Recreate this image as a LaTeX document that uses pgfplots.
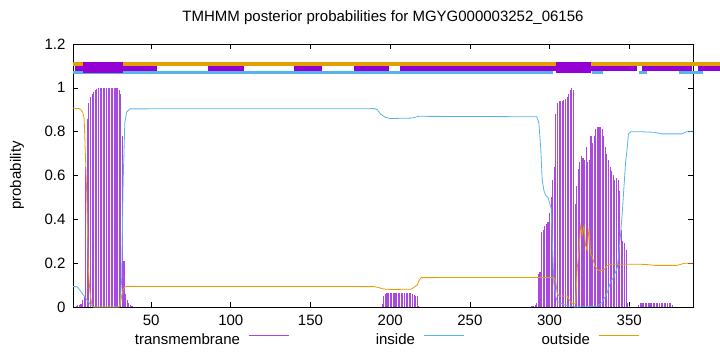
\documentclass[border=0pt]{standalone}
\usepackage{pgfplots}
\pgfplotsset{compat=1.18}
\usepackage{fontspec}
\setmainfont{Liberation Sans}
\definecolor{tmc}{RGB}{148,0,211}
\definecolor{tmbar}{RGB}{172,72,226}
\definecolor{tmleg}{RGB}{165,70,220}
\definecolor{inc}{RGB}{86,180,233}
\definecolor{outc}{RGB}{230,159,0}

\pgfplotstableread{
r v
3 0.005
4 0.008
5 0.01
6 0.015
7 0.03
8 0.05
9 0.64
10 0.86
11 0.93
12 0.96
13 0.97
14 0.98
15 0.99
16 0.995
17 1.0
18 1.0
19 1.0
20 1.0
21 1.0
22 1.0
23 1.0
24 1.0
25 1.0
26 1.0
27 1.0
28 1.0
29 1.0
30 0.99
31 0.97
32 0.78
33 0.21
34 0.06
35 0.03
36 0.02
37 0.01
38 0.005
195 0.012
196 0.05
197 0.06
198 0.065
199 0.065
200 0.065
201 0.065
202 0.065
203 0.065
204 0.065
205 0.065
206 0.065
207 0.065
208 0.065
209 0.065
210 0.065
211 0.065
212 0.065
213 0.064
214 0.06
215 0.055
216 0.052
217 0.05
218 0.003
289 0.003
290 0.005
291 0.01
292 0.02
293 0.15
294 0.16
295 0.34
296 0.35
297 0.37
298 0.38
299 0.39
300 0.43
301 0.5
302 0.58
303 0.64
304 0.88
305 0.93
306 0.94
307 0.94
308 0.94
309 0.945
310 0.95
311 0.96
312 0.97
313 0.99
314 1.0
315 0.99
316 0.47
317 0.55
318 0.63
319 0.66
320 0.69
321 0.68
322 0.67
323 0.73
324 0.66
325 0.67
326 0.78
327 0.75
328 0.78
329 0.81
330 0.82
331 0.823
332 0.82
333 0.81
334 0.78
335 0.73
336 0.70
337 0.67
338 0.64
339 0.62
340 0.60
341 0.58
342 0.59
343 0.58
344 0.53
345 0.35
346 0.30
347 0.29
348 0.26
349 0.02
350 0.005
356 0.01
357 0.02
358 0.02
359 0.02
360 0.02
361 0.02
362 0.02
363 0.02
364 0.02
365 0.02
366 0.02
367 0.02
368 0.02
369 0.02
370 0.02
371 0.02
372 0.02
373 0.02
374 0.02
375 0.02
376 0.02
377 0.01
}\tmdata

\pgfplotstableread{
r v
1 0.093
3 0.093
4 0.09
6 0.07
8 0.05
10 0.03
12 0.01
14 0.0
30 0.0
30.5 0.01
31.5 0.12
32.5 0.58
33.5 0.84
34.7 0.89
36.8 0.904
190 0.905
192 0.9
194 0.88
197 0.865
200 0.86
214 0.862
216 0.867
218 0.87
292 0.868
293.3 0.84
294.4 0.73
295.4 0.58
296.5 0.53
297.5 0.51
299 0.5
300.2 0.47
301 0.45
301.7 0.3
302.7 0.11
303.8 0.05
304.8 0.024
310 0.008
316 0.0
330 0.003
333 0.022
336 0.062
338 0.108
340.4 0.14
342.5 0.18
343.5 0.245
344.6 0.336
345.7 0.44
346.7 0.55
347.7 0.66
348.8 0.73
349.5 0.79
351 0.8
356 0.8
366 0.797
370 0.79
383 0.79
386 0.8
390 0.8
}\indata

\pgfplotstableread{
r v
1 0.907
5 0.905
6 0.9
7 0.89
8 0.86
9.6 0.52
10.6 0.18
11.7 0.06
13 0.005
14 0.0
29.5 0.0
30.5 0.01
31.5 0.05
32.5 0.08
33.5 0.09
34.7 0.094
190 0.093
193 0.088
196 0.082
200 0.08
213 0.081
215 0.09
217 0.1
218 0.12
219.4 0.134
302.7 0.135
303.8 0.12
304.8 0.062
306 0.05
311 0.05
312 0.037
314.2 0.015
316.3 0.015
317.4 0.18
318.4 0.25
319.5 0.37
320.5 0.33
321.6 0.37
322.6 0.28
323.7 0.26
324.7 0.36
325.8 0.24
326.8 0.23
328.3 0.19
330 0.17
332 0.165
334.1 0.17
336.2 0.19
338.3 0.195
357 0.195
362 0.193
366 0.19
380 0.19
385 0.2
390 0.2
}\outdata

\begin{document}
\begin{tikzpicture}[font=\fontsize{15}{18}\selectfont]
\path[use as bounding box] (0,0) rectangle (720pt,352pt);
\begin{axis}[
  at={(73pt,45pt)}, anchor=south west,
  scale only axis, width=620pt, height=263pt,
  xmin=1, xmax=390, ymin=0, ymax=1.2,
  clip=false,
  axis line style={black, line width=0.8pt},
  xtick={50,100,150,200,250,300,350},
  ytick={0,0.2,0.4,0.6,0.8,1,1.2},
  tick align=inside,
  major tick length=5pt,
  tick style={black, line width=0.6pt},
  /pgf/number format/assume math mode=true,
  xticklabel style={yshift=-4pt},
  yticklabel style={xshift=-4pt},
  title={TMHMM posterior probabilities for MGYG000003252\_06156},
  title style={at={(axis description cs:0.5,1)}, anchor=south, yshift=10pt},
  ylabel={probability},
  ylabel style={at={(axis description cs:-0.0903,0.5)}, anchor=center},
  legend image code/.code={\draw[#1] (0pt,5pt) -- (40pt,5pt);},
  legend plot pos=right,
  legend columns=3,
  legend style={draw=none, fill=none, at={(axis description cs:0.0984,-0.1255)}, anchor=west,
    inner sep=0pt, outer sep=0pt, nodes={inner sep=0pt},
    /tikz/every odd column/.append style={column sep=8pt},
    /tikz/every even column/.append style={column sep=20pt}},
]
% top tracks
\addplot[forget plot, outc, line width=4pt] coordinates {(1,1.1086) (407.0,1.1086)};
\addplot[forget plot, inc, line width=3pt] coordinates {(1,1.070) (302.2,1.070)};
\addplot[forget plot, inc, line width=3pt] coordinates {(326.6,1.070) (333.5,1.070)};
\addplot[forget plot, inc, line width=3pt] coordinates {(356.1,1.070) (361.1,1.070)};
\addplot[forget plot, inc, line width=3pt] coordinates {(381.2,1.070) (396.3,1.070)};
\addplot[forget plot, tmc, line width=5pt] coordinates {(2.25,1.088) (53.7,1.088)};
\addplot[forget plot, tmc, line width=5pt] coordinates {(85.7,1.088) (108.3,1.088)};
\addplot[forget plot, tmc, line width=5pt] coordinates {(139.7,1.088) (157.2,1.088)};
\addplot[forget plot, tmc, line width=5pt] coordinates {(177.3,1.088) (199.3,1.088)};
\addplot[forget plot, tmc, line width=5pt] coordinates {(206.2,1.088) (354.9,1.088)};
\addplot[forget plot, tmc, line width=5pt] coordinates {(358.0,1.088) (389.4,1.088)};
\addplot[forget plot, tmc, line width=5pt] coordinates {(393.2,1.088) (407.0,1.088)};
\addplot[forget plot, tmc, line width=11pt] coordinates {(7.3,1.0928) (32.4,1.0928)};
\addplot[forget plot, tmc, line width=11pt] coordinates {(304.0,1.0928) (326.0,1.0928)};
% curves
\addplot[forget plot, ycomb, tmbar, line width=1.1pt, mark=none] table[x=r, y=v] {\tmdata};
\addplot[forget plot, inc, line width=0.8pt, mark=none] table[x=r, y=v] {\indata};
\addplot[forget plot, outc, line width=0.8pt, mark=none] table[x=r, y=v] {\outdata};
% legend
\addlegendimage{tmleg, line width=1pt}
\addlegendentry{\makebox[106pt][r]{transmembrane}}
\addlegendimage{inc, line width=1pt}
\addlegendentry{\makebox[106pt][r]{inside}}
\addlegendimage{outc, line width=1pt}
\addlegendentry{\makebox[106pt][r]{outside}}
\end{axis}
\end{tikzpicture}
\end{document}
